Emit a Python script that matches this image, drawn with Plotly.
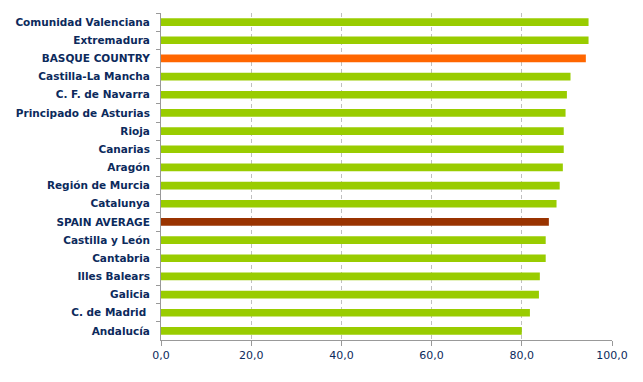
import plotly.graph_objects as go

regions = ["Comunidad Valenciana", "Extremadura", "BASQUE COUNTRY", "Castilla-La Mancha",
           "C. F. de Navarra", "Principado de Asturias", "Rioja", "Canarias", "Aragón",
           "Región de Murcia", "Catalunya", "SPAIN AVERAGE", "Castilla y León", "Cantabria",
           "Illes Balears", "Galicia", "C. de Madrid ", "Andalucía"]
values = [94.8, 94.8, 94.2, 90.8, 90.0, 89.7, 89.3, 89.3, 89.1, 88.4, 87.7, 86.0,
          85.3, 85.3, 84.0, 83.8, 81.8, 80.0]
x_ticks = [0, 20, 40, 60, 80, 100]

GREEN = "#99cc00"
highlight = {"BASQUE COUNTRY": "#ff6600", "SPAIN AVERAGE": "#993300"}
colors = [highlight.get(r, GREEN) for r in regions]

fig = go.Figure(go.Bar(
    x=values, y=regions, orientation="h",
    marker=dict(color=colors, line=dict(width=0)),
    hoverinfo="x+y",
))

# page body has an 8px default margin, compensated here
fig.update_layout(
    width=643, height=382,
    margin=dict(l=153, r=39, t=5, b=50),
    paper_bgcolor="white", plot_bgcolor="white",
    bargap=0.58,
    separators=",.",
    showlegend=False,
    font=dict(family="DejaVu Sans, Verdana, sans-serif", color="#0c2a5c"),
)
fig.update_xaxes(
    range=[0, 100], tickvals=x_ticks, tickformat=".1f",
    showgrid=True, gridcolor="#c0c0c0", griddash="4px,3px", gridwidth=1,
    showline=True, linecolor="#999999", linewidth=1,
    ticks="outside", ticklen=5, tickcolor="#999999",
    tickfont=dict(size=11, color="#0c2a5c"),
    zeroline=False,
)
fig.update_yaxes(
    autorange="reversed",
    showline=True, linecolor="#999999", linewidth=1,
    ticks="outside", ticklen=4, tickcolor="#999999", tickson="boundaries",
    tickfont=dict(size=10.5, color="#0c2a5c", weight="bold"),
    ticklabelstandoff=8,
    showgrid=False,
)

fig.write_html("out.html")
